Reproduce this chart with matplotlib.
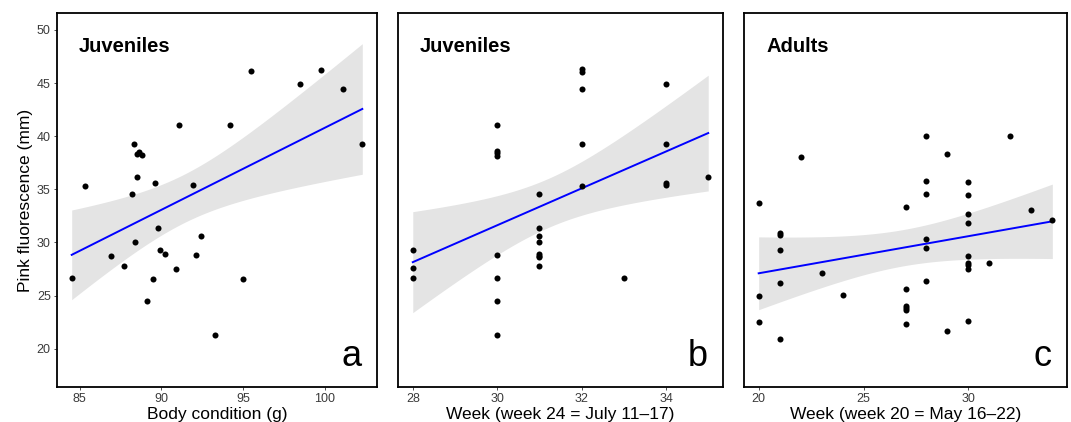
import math
import numpy as np
import matplotlib
matplotlib.use('Agg')
import matplotlib.pyplot as plt

plt.rcParams['font.family'] = ['Liberation Sans', 'DejaVu Sans']

# panel a: body condition vs pink fluorescence (juveniles)
body_cond = [84.5, 85.3, 86.9, 87.7, 88.2, 88.3, 88.4, 88.5, 88.5, 88.6,
             88.8, 89.1, 89.5, 89.6, 89.8, 89.9, 90.2, 90.9, 91.1, 91.9,
             92.1, 92.4, 93.3, 94.2, 95.0, 95.5, 98.5, 99.8, 101.1, 102.3]
fluor_a = [26.7, 35.3, 28.7, 27.8, 34.6, 39.3, 30.0, 36.2, 38.3, 38.5,
           38.2, 24.5, 26.6, 35.6, 31.4, 29.3, 28.9, 27.5, 41.1, 35.4,
           28.8, 30.6, 21.3, 41.1, 26.6, 46.1, 44.9, 46.2, 44.4, 39.3]

# panel b: week vs pink fluorescence (juveniles)
week_b = [28, 28, 28,
          30, 30, 30, 30, 30, 30, 30, 30,
          31, 31, 31, 31, 31, 31, 31, 31,
          32, 32, 32, 32, 32,
          33,
          34, 34, 34, 34,
          35]
fluor_b = [29.3, 27.6, 26.7,
           41.1, 38.6, 38.4, 38.1, 28.8, 26.7, 24.5, 21.3,
           34.6, 31.4, 30.6, 30.0, 28.9, 28.75, 28.6, 27.8,
           46.3, 46.0, 44.4, 39.3, 35.3,
           26.7,
           44.9, 39.3, 35.6, 35.4,
           36.2]

# panel c: week vs pink fluorescence (adults)
week_c = [20, 20, 20,
          21, 21, 21, 21, 21,
          22, 23, 24,
          27, 27, 27, 27, 27, 27,
          28, 28, 28, 28, 28, 28,
          29, 29,
          30, 30, 30, 30, 30, 30, 30, 30, 30,
          31, 32, 33, 34]
fluor_c = [33.7, 25.0, 22.5,
           30.9, 30.7, 29.3, 26.2, 20.9,
           38.0, 27.1, 25.1,
           33.3, 25.6, 24.0, 23.8, 23.6, 22.3,
           40.0, 35.8, 34.6, 30.3, 29.5, 26.4,
           38.3, 21.7,
           35.7, 34.5, 32.7, 31.8, 28.7, 28.1, 27.9, 27.5, 22.6,
           28.1, 40.0, 33.1, 32.1]

x_ticks_a = [85, 90, 95, 100]
x_ticks_b = [28, 30, 32, 34]
x_ticks_c = [20, 25, 30]
y_ticks = [20, 25, 30, 35, 40, 45, 50]


def t_crit(df, p=0.975):
    # inverse t cdf by bisection on a numeric integral of the pdf
    c = math.gamma((df + 1) / 2) / (math.sqrt(df * math.pi) * math.gamma(df / 2))
    def cdf(t):
        xs = np.linspace(0, t, 2001)
        ys = c * (1 + xs ** 2 / df) ** (-(df + 1) / 2)
        return 0.5 + np.trapezoid(ys, xs)
    lo, hi = 0.0, 10.0
    for _ in range(60):
        mid = (lo + hi) / 2
        if cdf(mid) < p:
            lo = mid
        else:
            hi = mid
    return (lo + hi) / 2


def smooth(ax, x, y):
    # linear fit with 95% confidence band, like geom_smooth(method='lm')
    x = np.asarray(x, float)
    y = np.asarray(y, float)
    n = len(x)
    b, a = np.polyfit(x, y, 1)
    resid = y - (a + b * x)
    s = np.sqrt(np.sum(resid ** 2) / (n - 2))
    xg = np.linspace(x.min(), x.max(), 80)
    yg = a + b * xg
    se = s * np.sqrt(1 / n + (xg - x.mean()) ** 2 / np.sum((x - x.mean()) ** 2))
    tc = t_crit(n - 2)
    ax.fill_between(xg, yg - tc * se, yg + tc * se, color='#e4e4e4', lw=0, zorder=1)
    ax.plot(xg, yg, color='#0000ff', lw=1.4, zorder=2)


fig = plt.figure(figsize=(10.71, 4.22), dpi=100)
W, H = 1071, 422
boxes = [(57, 377), (398, 723), (744, 1067)]
top, bottom = 13, 387

panels = [
    (body_cond, fluor_a, x_ticks_a, (83.6, 103.2), 'Body condition (g)', 'Juveniles', 'a'),
    (week_b, fluor_b, x_ticks_b, (27.65, 35.35), 'Week (week 24 = July 11\u201317)', 'Juveniles', 'b'),
    (week_c, fluor_c, x_ticks_c, (19.3, 34.7), 'Week (week 20 = May 16\u201322)', 'Adults', 'c'),
]

for i, (xs, ys, xt, xl, xlabel, title, letter) in enumerate(panels):
    l, r = boxes[i]
    ax = fig.add_axes([l / W, 1 - bottom / H, (r - l) / W, (bottom - top) / H])
    smooth(ax, xs, ys)
    ax.scatter(xs, ys, s=19, color='black', lw=0, zorder=3)
    ax.set_xlim(*xl)
    ax.set_ylim(16.4, 51.6)
    ax.set_xticks(xt)
    ax.set_xticklabels([str(v) for v in xt])
    ax.set_yticks(y_ticks)
    if i == 0:
        ax.set_yticklabels([str(v) for v in y_ticks])
        ax.set_ylabel('Pink fluorescence (mm)', fontsize=12.5, labelpad=3)
    else:
        ax.tick_params(axis='y', left=False, labelleft=False)
    ax.tick_params(length=2.5, width=0.6, color='#333333', labelcolor='#3a3a3a',
                   labelsize=9, pad=2)
    ax.set_xlabel(xlabel, fontsize=12.5, labelpad=1)
    for sp in ax.spines.values():
        sp.set_linewidth(1.3)
        sp.set_color('black')
    ax.annotate(title, xy=(0, 1), xycoords='axes fraction', xytext=(16, -28),
                textcoords='offset points', fontsize=14.5, fontweight='bold',
                ha='left', va='baseline')
    ax.annotate(letter, xy=(1, 0), xycoords='axes fraction', xytext=(-11, 15),
                textcoords='offset points', fontsize=26, ha='right', va='baseline')

fig.savefig('out.png', dpi=100)
